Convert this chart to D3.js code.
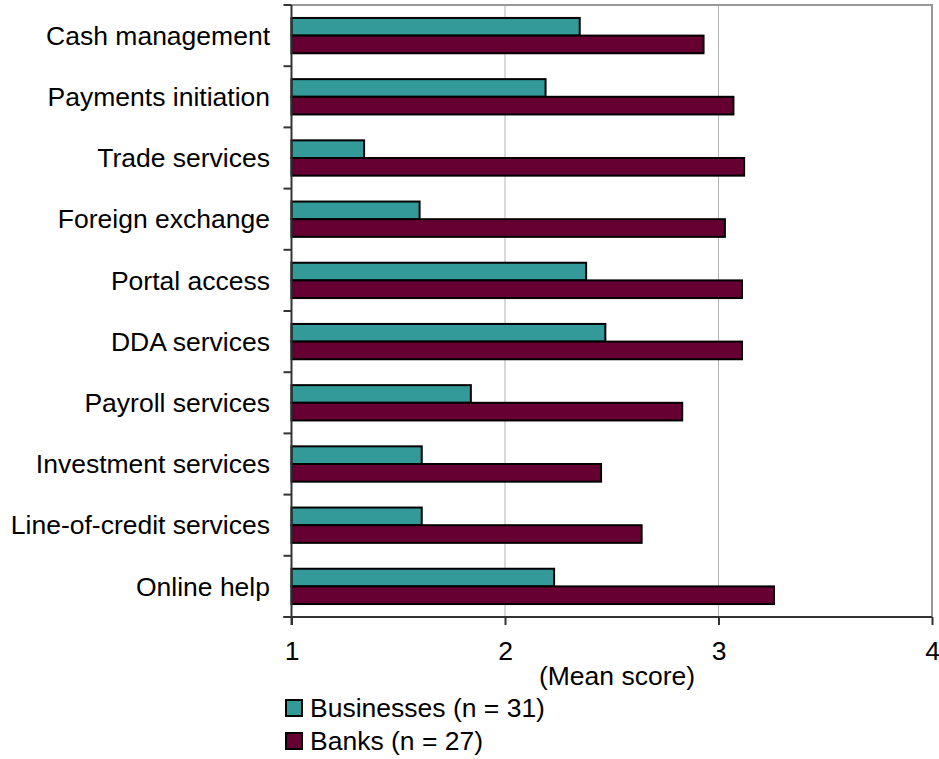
<!DOCTYPE html>
<html>
<head>
<meta charset="utf-8">
<script src="https://cdn.jsdelivr.net/npm/d3@7"></script>
<style>
  html, body { margin: 0; padding: 0; background: #fff; }
  svg { display: block; }
  text { font-family: "Liberation Sans", Arial, sans-serif; fill: #000; }
</style>
</head>
<body>
<svg id="chart" width="939" height="759"></svg>
<script>
// Services rated, top to bottom
const categories = [
  "Cash management",
  "Payments initiation",
  "Trade services",
  "Foreign exchange",
  "Portal access",
  "DDA services",
  "Payroll services",
  "Investment services",
  "Line-of-credit services",
  "Online help"
];
const seriesNames = ["Businesses (n = 31)", "Banks (n = 27)"];
const businesses = [2.35, 2.19, 1.34, 1.60, 2.38, 2.47, 1.84, 1.61, 1.61, 2.23];
const banks      = [2.93, 3.07, 3.12, 3.03, 3.11, 3.11, 2.83, 2.45, 2.64, 3.26];
const xTicks = [1, 2, 3, 4];
const axisTitle = "(Mean score)";

const colors = ["#339999", "#660033"];
const fontSize = 26.5;

const svg = d3.select("#chart");
const plotLeft = 291.5, plotRight = 932, plotTop = 5, plotBottom = 617;

const x = d3.scaleLinear().domain([1, 4]).range([plotLeft, plotRight]);
const y = d3.scaleBand().domain(categories).range([plotTop, plotBottom])
  .paddingInner(0.423).paddingOuter(0.2115);
const ySeries = d3.scaleBand().domain(seriesNames).range([0, y.bandwidth()]);

// gridlines
svg.append("g").selectAll("line")
  .data(xTicks.filter(t => t > 1 && t < 4))
  .join("line")
  .attr("x1", d => x(d)).attr("x2", d => x(d))
  .attr("y1", plotTop).attr("y2", plotBottom)
  .attr("stroke", "#b3b3b3").attr("stroke-width", 1);

// plot frame (top and right)
svg.append("path")
  .attr("d", `M${plotLeft},${plotTop}H${plotRight}V${plotBottom}`)
  .attr("fill", "none").attr("stroke", "#999").attr("stroke-width", 2);

// bars
const rows = categories.map((c, i) => ({ c, vals: [businesses[i], banks[i]] }));
const groups = svg.append("g").selectAll("g")
  .data(rows).join("g")
  .attr("transform", d => `translate(0,${y(d.c)})`);
groups.selectAll("rect")
  .data(d => d.vals.map((v, k) => ({ v, k })))
  .join("rect")
  .attr("x", x(1))
  .attr("y", d => ySeries(seriesNames[d.k]))
  .attr("width", d => x(d.v) - x(1))
  .attr("height", ySeries.bandwidth())
  .attr("fill", d => colors[d.k])
  .attr("stroke", "#000").attr("stroke-width", 2);

// category axis
const step = y.step();
const catTicks = d3.range(categories.length + 1).map(i => plotTop + i * step);
const yAxis = svg.append("g");
yAxis.append("line")
  .attr("x1", plotLeft).attr("x2", plotLeft).attr("y1", plotTop).attr("y2", plotBottom + 8)
  .attr("stroke", "#333").attr("stroke-width", 2);
yAxis.selectAll("line.tick").data(catTicks).join("line")
  .attr("class", "tick")
  .attr("x1", plotLeft - 8).attr("x2", plotLeft).attr("y1", d => d).attr("y2", d => d)
  .attr("stroke", "#333").attr("stroke-width", 2);
yAxis.selectAll("text").data(categories).join("text")
  .attr("x", 270).attr("y", d => y(d) + y.bandwidth() / 2)
  .attr("dy", "0.35em")
  .attr("text-anchor", "end")
  .attr("font-size", fontSize)
  .text(d => d);

// value axis
const xAxis = svg.append("g").attr("transform", `translate(0,${plotBottom})`)
  .call(d3.axisBottom(x).tickValues(xTicks).tickFormat(d3.format("d")).tickSize(8).tickPadding(16));
xAxis.select(".domain").attr("stroke", "#333").attr("stroke-width", 2)
  .attr("d", `M${plotLeft - 8},0H${plotRight}`);
xAxis.selectAll(".tick line").attr("stroke", "#333").attr("stroke-width", 2);
xAxis.selectAll(".tick text")
  .attr("font-size", fontSize).attr("font-family", "Liberation Sans, Arial, sans-serif")
  .attr("fill", "#000");

svg.append("text")
  .attr("x", 617).attr("y", 685)
  .attr("text-anchor", "middle").attr("font-size", fontSize)
  .text(axisTitle);

// legend
const legend = svg.append("g").selectAll("g")
  .data(seriesNames).join("g")
  .attr("transform", (d, i) => `translate(286,${700 + i * 33})`);
legend.append("rect")
  .attr("width", 16).attr("height", 16)
  .attr("fill", (d, i) => colors[i])
  .attr("stroke", "#000").attr("stroke-width", 2);
legend.append("text")
  .attr("x", 24).attr("y", 17)
  .attr("font-size", fontSize)
  .text(d => d);
</script>
</body>
</html>
